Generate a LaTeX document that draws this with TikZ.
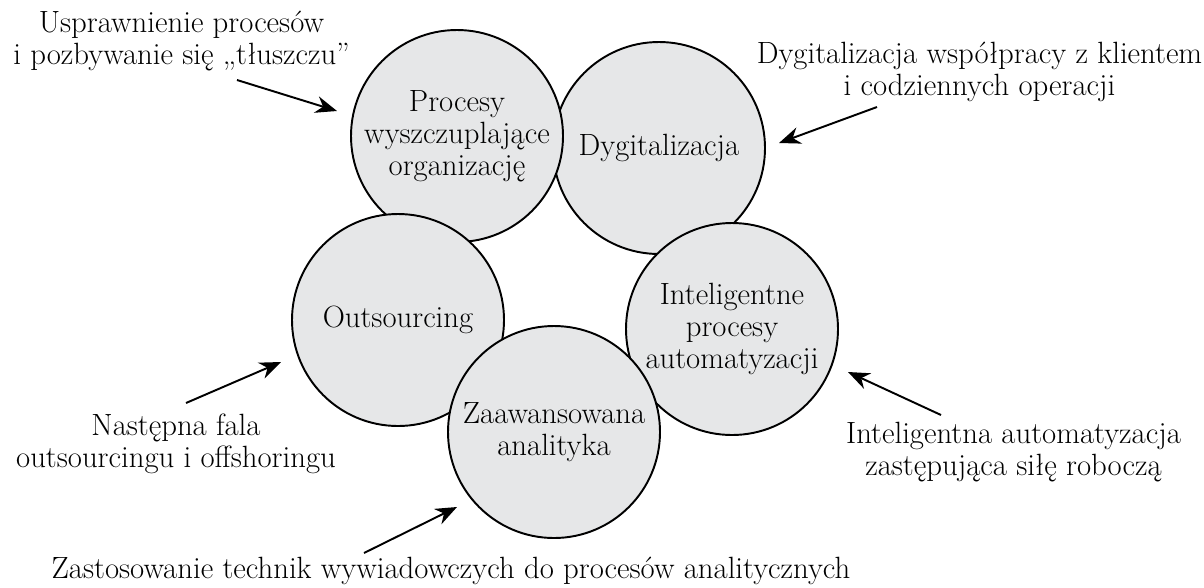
\documentclass[tikz,border=0pt]{standalone}
\usepackage{fontspec}
\usepackage{tikz}
\usetikzlibrary{arrows.meta, positioning, shapes.geometric}

\begin{document}
\begin{tikzpicture}[
    >={Stealth[length=4.3mm, width=3.4mm]},
    bubble/.style={draw, circle, fill=cbub, align=center,
                   minimum size=4.24cm, inner sep=0pt, line width=1.1pt},
    note/.style={align=center, inner sep=0pt},
    arr/.style={->, line width=1.1pt},
    every node/.style={font=\fontsize{17.5}{18.2}\selectfont},
]
% ---- Colours ----
\definecolor{cbub}{HTML}{E6E7E8}   % circle fill
\useasboundingbox (0,0) rectangle (24.08,-11.74);

% ---- Circles (drawing order sets the overlaps) ----
\node[bubble] (dyg)  at (13.18, -2.96) {Dygitalizacja};
\node[bubble] (proc) at (9.14, -2.72)  {Procesy\\wyszczuplające\\organizację};
\node[bubble] (outs) at (7.96, -6.40)  {Outsourcing};
\node[bubble] (auto) at (14.64, -6.58) {Inteligentne\\procesy\\automatyzacji};
\node[bubble] (anal) at (11.08, -8.64) {Zaawansowana\\analityka};

% ---- Outer notes ----
\node[note] (nproc) at (3.63, -0.82)  {Usprawnienie procesów\\i pozbywanie się „tłuszczu”};
\node[note] (ndyg)  at (19.59, -1.44) {Dygitalizacja współpracy z klientem\\i codziennych operacji};
\node[note] (nouts) at (3.52, -8.88)  {Następna fala\\outsourcingu i offshoringu};
\node[note] (nanal) at (9.02, -11.42) {Zastosowanie technik wywiadowczych do procesów analitycznych};
\node[note] (nauto) at (20.27, -9.04) {Inteligentna automatyzacja\\zastępująca siłę roboczą};

% ---- Arrow ends ----
\coordinate (tproc) at (4.74, -1.60);   \coordinate (hproc) at (6.74, -2.22);
\coordinate (tdyg)  at (17.54, -2.14);  \coordinate (hdyg)  at (15.58, -2.86);
\coordinate (touts) at (3.72, -8.06);   \coordinate (houts) at (5.62, -7.24);
\coordinate (tanal) at (7.28, -11.06);  \coordinate (hanal) at (9.14, -10.14);
\coordinate (tauto) at (18.82, -8.30);  \coordinate (hauto) at (16.96, -7.44);

% ---- Arrows ----
\draw[arr] (tproc) -- (hproc);
\draw[arr] (tdyg) -- (hdyg);
\draw[arr] (touts) -- (houts);
\draw[arr] (tanal) -- (hanal);
\draw[arr] (tauto) -- (hauto);
\end{tikzpicture}
\end{document}
